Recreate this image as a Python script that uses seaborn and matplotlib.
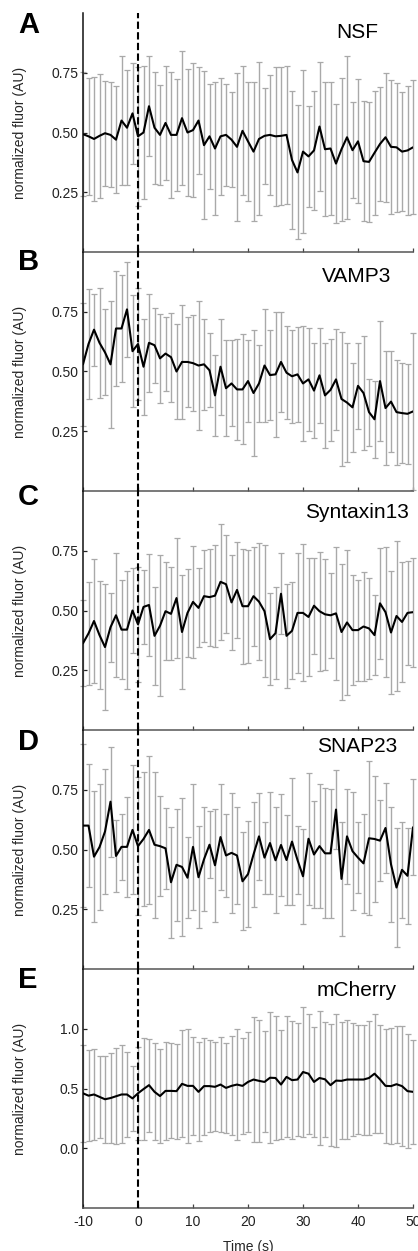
import numpy as np
import pandas as pd
import matplotlib
matplotlib.use("Agg")
import matplotlib.pyplot as plt
import seaborn as sns

# ---------------- data ----------------
time_s = list(range(-10, 51))

panel_letters = ["A", "B", "C", "D", "E"]
proteins = ["NSF", "VAMP3", "Syntaxin13", "SNAP23", "mCherry"]

nsf_mean = [0.493, 0.484, 0.473, 0.486, 0.497, 0.49, 0.47, 0.55, 0.52, 0.58,
            0.484, 0.50, 0.61, 0.52, 0.49, 0.54, 0.49, 0.49, 0.56, 0.50,
            0.51, 0.55, 0.447, 0.484, 0.433, 0.484, 0.49, 0.47, 0.44, 0.507,
            0.463, 0.42, 0.473, 0.486, 0.49, 0.484, 0.486, 0.49, 0.385, 0.333,
            0.42, 0.40, 0.425, 0.525, 0.43, 0.433, 0.37, 0.43, 0.48, 0.426,
            0.463, 0.38, 0.377, 0.415, 0.452, 0.48, 0.44, 0.438, 0.42, 0.425,
            0.438]
nsf_err = [0.26, 0.245, 0.26, 0.26, 0.22, 0.22, 0.225, 0.27, 0.24, 0.21,
           0.29, 0.28, 0.21, 0.235, 0.21, 0.24, 0.265, 0.235, 0.28, 0.265,
           0.28, 0.225, 0.31, 0.22, 0.28, 0.245, 0.215, 0.2, 0.31, 0.27,
           0.25, 0.29, 0.32, 0.2, 0.25, 0.29, 0.29, 0.29, 0.29, 0.28,
           0.34, 0.21, 0.25, 0.27, 0.28, 0.28, 0.25, 0.3, 0.34, 0.2,
           0.26, 0.25, 0.25, 0.26, 0.24, 0.27, 0.28, 0.27, 0.25, 0.27,
           0.28]

vamp3_mean = [0.53, 0.615, 0.675, 0.62, 0.58, 0.53, 0.68, 0.68, 0.76, 0.585,
              0.615, 0.52, 0.62, 0.61, 0.555, 0.575, 0.56, 0.50, 0.54, 0.54,
              0.535, 0.525, 0.53, 0.505, 0.40, 0.52, 0.43, 0.45, 0.425, 0.425,
              0.46, 0.41, 0.45, 0.525, 0.485, 0.488, 0.54, 0.495, 0.48, 0.488,
              0.45, 0.467, 0.42, 0.484, 0.40, 0.423, 0.467, 0.385, 0.37, 0.35,
              0.44, 0.41, 0.33, 0.30, 0.46, 0.347, 0.374, 0.33, 0.326, 0.323,
              0.333]
vamp3_err = [0.256, 0.23, 0.15, 0.23, 0.18, 0.265, 0.24, 0.225, 0.2, 0.235,
             0.235, 0.2, 0.205, 0.157, 0.187, 0.155, 0.186, 0.2, 0.24, 0.19,
             0.2, 0.27, 0.19, 0.155, 0.17, 0.2, 0.2, 0.18, 0.21, 0.23,
             0.17, 0.265, 0.16, 0.235, 0.19, 0.263, 0.21, 0.195, 0.195, 0.2,
             0.24, 0.217, 0.2, 0.2, 0.22, 0.215, 0.21, 0.28, 0.25, 0.185,
             0.18, 0.24, 0.14, 0.16, 0.25, 0.24, 0.21, 0.22, 0.21, 0.21,
             0.33]

stx13_mean = [0.363, 0.404, 0.456, 0.397, 0.347, 0.43, 0.48, 0.42, 0.42, 0.50,
              0.442, 0.515, 0.523, 0.394, 0.436, 0.497, 0.486, 0.552, 0.41, 0.49,
              0.536, 0.511, 0.56, 0.556, 0.562, 0.62, 0.61, 0.534, 0.586, 0.518,
              0.518, 0.56, 0.537, 0.497, 0.38, 0.405, 0.57, 0.394, 0.415, 0.49,
              0.49, 0.473, 0.52, 0.497, 0.484, 0.48, 0.488, 0.41, 0.45, 0.418,
              0.418, 0.433, 0.425, 0.397, 0.53, 0.493, 0.408, 0.477, 0.452, 0.49,
              0.493]
stx13_err = [0.18, 0.215, 0.26, 0.225, 0.265, 0.145, 0.26, 0.206, 0.247, 0.177,
             0.24, 0.155, 0.213, 0.205, 0.295, 0.205, 0.194, 0.25, 0.24, 0.184,
             0.235, 0.165, 0.193, 0.203, 0.213, 0.244, 0.205, 0.2, 0.2, 0.24,
             0.236, 0.207, 0.244, 0.275, 0.193, 0.192, 0.17, 0.218, 0.203, 0.25,
             0.287, 0.248, 0.2, 0.249, 0.232, 0.178, 0.277, 0.283, 0.302, 0.23,
             0.211, 0.226, 0.211, 0.166, 0.232, 0.271, 0.257, 0.314, 0.25, 0.218,
             0.228]

snap23_mean = [0.60, 0.60, 0.47, 0.51, 0.575, 0.70, 0.473, 0.511, 0.511, 0.582,
               0.514, 0.544, 0.582, 0.52, 0.514, 0.505, 0.363, 0.436, 0.427, 0.382,
               0.511, 0.384, 0.459, 0.52, 0.434, 0.552, 0.475, 0.486, 0.475, 0.367,
               0.397, 0.479, 0.555, 0.466, 0.527, 0.455, 0.519, 0.456, 0.533, 0.456,
               0.388, 0.545, 0.479, 0.514, 0.484, 0.484, 0.667, 0.377, 0.555, 0.493,
               0.466, 0.442, 0.547, 0.544, 0.537, 0.59, 0.438, 0.341, 0.415, 0.39,
               0.593]
snap23_err = [0.34, 0.257, 0.275, 0.263, 0.26, 0.23, 0.152, 0.138, 0.21, 0.27,
              0.29, 0.28, 0.31, 0.305, 0.21, 0.17, 0.232, 0.235, 0.29, 0.17,
              0.265, 0.214, 0.218, 0.14, 0.237, 0.221, 0.173, 0.25, 0.201, 0.205,
              0.221, 0.218, 0.181, 0.151, 0.215, 0.221, 0.212, 0.19, 0.266, 0.141,
              0.198, 0.276, 0.225, 0.26, 0.272, 0.27, 0.165, 0.237, 0.2, 0.247,
              0.147, 0.208, 0.322, 0.263, 0.17, 0.187, 0.241, 0.25, 0.2, 0.202,
              0.2]

mcherry_mean = [0.46, 0.44, 0.45, 0.43, 0.41, 0.42, 0.435, 0.45, 0.45, 0.417,
                0.46, 0.495, 0.528, 0.472, 0.437, 0.48, 0.48, 0.478, 0.539, 0.522,
                0.522, 0.472, 0.52, 0.52, 0.514, 0.533, 0.505, 0.522, 0.533, 0.522,
                0.555, 0.575, 0.564, 0.555, 0.59, 0.588, 0.533, 0.597, 0.57, 0.575,
                0.638, 0.624, 0.555, 0.588, 0.577, 0.528, 0.566, 0.564, 0.575, 0.575,
                0.575, 0.575, 0.588, 0.624, 0.577, 0.522, 0.52, 0.536, 0.52, 0.478,
                0.472]
mcherry_err = [0.405, 0.38, 0.377, 0.345, 0.363, 0.376, 0.4, 0.41, 0.356, 0.27,
               0.39, 0.428, 0.39, 0.405, 0.392, 0.41, 0.397, 0.397, 0.448, 0.48,
               0.41, 0.415, 0.405, 0.386, 0.373, 0.397, 0.376, 0.414, 0.462, 0.403,
               0.418, 0.521, 0.51, 0.422, 0.547, 0.52, 0.459, 0.507, 0.493, 0.472,
               0.541, 0.501, 0.46, 0.56, 0.483, 0.512, 0.559, 0.49, 0.5, 0.472,
               0.456, 0.46, 0.48, 0.5, 0.452, 0.48, 0.483, 0.49, 0.5, 0.48,
               0.436]

means = [nsf_mean, vamp3_mean, stx13_mean, snap23_mean, mcherry_mean]
errs = [nsf_err, vamp3_err, stx13_err, snap23_err, mcherry_err]

y_ticks = [[0.25, 0.50, 0.75]] * 4 + [[0.0, 0.5, 1.0]]
y_ticklabels = [["0.25", "0.50", "0.75"]] * 4 + [["0.0", "0.5", "1.0"]]
y_limits = [(0, 1)] * 4 + [(-0.5, 1.5)]
x_ticks = [-10, 0, 10, 20, 30, 40, 50]
x_ticklabels = ["-10", "0", "10", "20", "30", "40", "50"]

# ---------------- style ----------------
sns.set_theme(style="ticks")
plt.rcParams["font.family"] = ["Liberation Sans", "DejaVu Sans"]

W, H = 418, 1251
fig = plt.figure(figsize=(W / 100, H / 100), dpi=100)

left_px, right_px = 83, 413
panel_h = 239
top0 = 13
title_off = [19, 24, 22, 17, 22]
letter_off = [12, 10, 6, 12, 11]

for i in range(5):
    top = top0 + panel_h * i
    ax = fig.add_axes([left_px / W, 1 - (top + panel_h) / H,
                       (right_px - left_px) / W, panel_h / H])
    df = pd.DataFrame({"time": time_s, "mean": means[i], "err": errs[i]})
    ax.errorbar(df["time"], df["mean"], yerr=df["err"], fmt="none",
                ecolor="#a9a9a9", elinewidth=1.0, capsize=2.0, capthick=0.9,
                clip_on=False, zorder=2)
    sns.lineplot(data=df, x="time", y="mean", ax=ax, color="black",
                 linewidth=1.5, zorder=3)
    ax.axvline(0, color="black", linestyle=(0, (3.5, 1.6)), linewidth=1.5,
               zorder=4)
    ax.set_xlim(-10, 50)
    ax.set_ylim(*y_limits[i])
    ax.set_yticks(y_ticks[i])
    ax.set_yticklabels(y_ticklabels[i])
    ax.set_xticks(x_ticks)
    if i == 4:
        ax.set_xticklabels(x_ticklabels)
        ax.set_xlabel("Time (s)", fontsize=10, labelpad=8)
    else:
        ax.set_xticklabels([])
        ax.set_xlabel("")
    ax.set_ylabel("normalized fluor (AU)", fontsize=10)
    ax.yaxis.set_label_coords((27 - left_px) / (right_px - left_px), 0.5)
    ax.tick_params(axis="both", direction="in", length=3, width=0.9,
                   labelsize=10, colors="#222222", pad=3)
    ax.tick_params(axis="x", pad=5, color="#444444")
    for s in ["top", "right"]:
        ax.spines[s].set_visible(False)
    ax.spines["left"].set_color("#111111")
    ax.spines["left"].set_linewidth(1.1)
    ax.spines["bottom"].set_color("#555555")
    ax.spines["bottom"].set_linewidth(1.1)
    ax.patch.set_alpha(0)
    ax.text((357 - left_px) / (right_px - left_px), 1 - title_off[i] / panel_h,
            proteins[i], transform=ax.transAxes, ha="center", va="center",
            fontsize=15, color="black")
    fig.text(18 / W, 1 - (top + letter_off[i]) / H, panel_letters[i],
             ha="left", va="center", fontsize=21, fontweight="bold",
             color="black")

fig.savefig("out.png", dpi=100)
